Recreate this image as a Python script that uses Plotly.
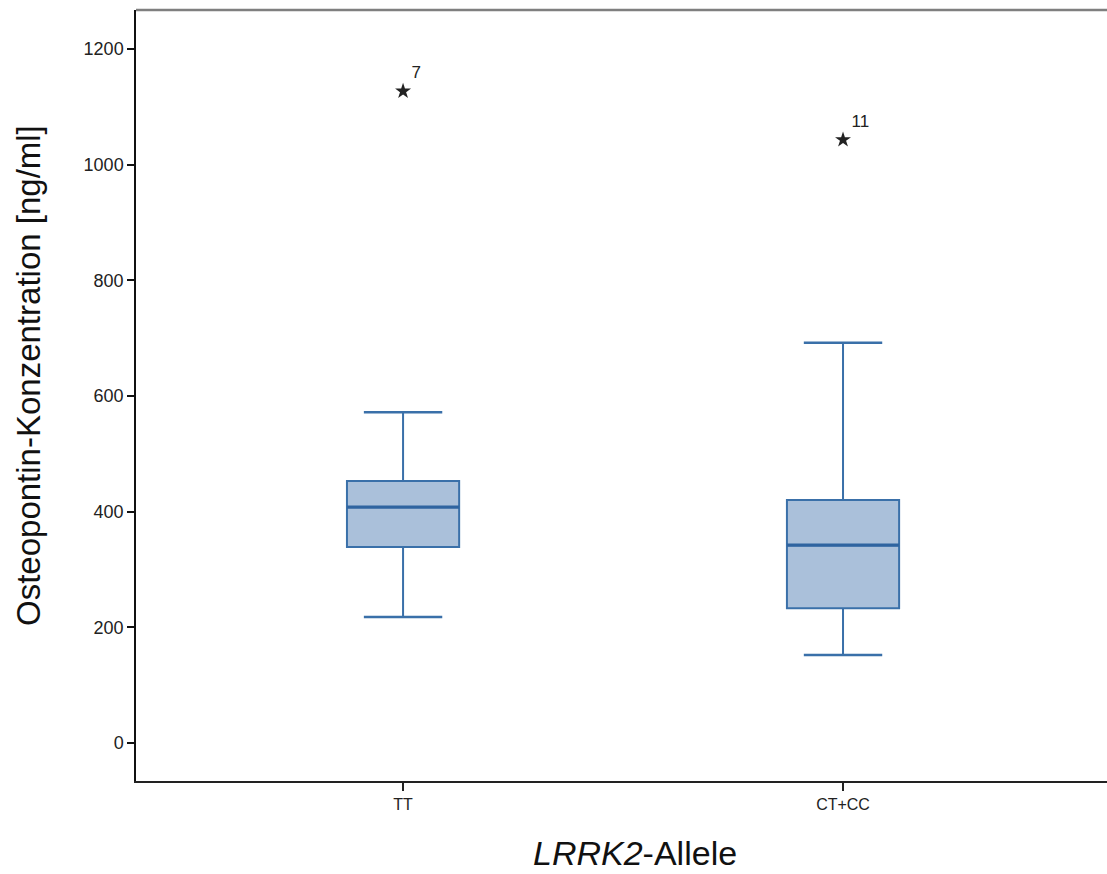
import plotly.graph_objects as go

# ---- data ----
categories = ["TT", "CT+CC"]
lower_whisker = [218, 152]
q1 = [339, 233]
median = [408, 342]
q3 = [453, 420]
upper_whisker = [572, 692]
outlier_values = [1127, 1043]
outlier_labels = ["7", "11"]
y_ticks = [0, 200, 400, 600, 800, 1000, 1200]

# ---- style ----
FONT = "Liberation Sans, Arial, sans-serif"
LINE = "#3A70A9"
FILL = "#AAC0DA"
BOX_W = 0.255
xpos = list(range(len(categories)))

fig = go.Figure()

fig.add_trace(go.Box(
    x=xpos, q1=q1, median=median, q3=q3,
    lowerfence=lower_whisker, upperfence=upper_whisker,
    width=BOX_W, fillcolor=FILL,
    line=dict(color=LINE, width=2),
    boxpoints=False, whiskerwidth=0, hoverinfo="skip", showlegend=False,
))

# thicker median lines
for xi, m in zip(xpos, median):
    fig.add_trace(go.Scatter(
        x=[xi - BOX_W / 2, xi + BOX_W / 2], y=[m, m], mode="lines",
        line=dict(color="#2F64A0", width=3.2), showlegend=False, hoverinfo="skip",
    ))

# whisker caps
fig.add_trace(go.Scatter(
    x=xpos + xpos, y=lower_whisker + upper_whisker, mode="markers",
    marker=dict(symbol="line-ew", size=56, line=dict(color=LINE, width=2.5)),
    showlegend=False, hoverinfo="skip",
))

# outliers
fig.add_trace(go.Scatter(
    x=xpos, y=outlier_values, mode="markers+text",
    marker=dict(symbol="star", size=12, color="#222222", line=dict(width=0)),
    text=outlier_labels, textposition="top right",
    textfont=dict(family=FONT, size=17, color="#222222"),
    showlegend=False, hoverinfo="skip",
))

fig.update_layout(
    width=1107, height=874,
    margin=dict(l=136, r=0, t=10, b=93),
    paper_bgcolor="white", plot_bgcolor="white",
    font=dict(family=FONT, color="#111111"),
    xaxis=dict(
        range=[-0.607, 1.6], tickmode="array", tickvals=xpos, ticktext=categories,
        showline=True, linecolor="#222222", linewidth=2,
        ticks="outside", ticklen=8, tickwidth=1.5, tickcolor="#222222",
        tickfont=dict(family=FONT, size=16, color="#222222"),
        showgrid=False, zeroline=False,
    ),
    yaxis=dict(
        range=[-65.7, 1267.4], tickmode="array", tickvals=y_ticks,
        showline=True, linecolor="#111111", linewidth=1.5,
        ticks="outside", ticklen=7, tickwidth=1.5, tickcolor="#111111",
        tickfont=dict(family=FONT, size=18, color="#222222"),
        showgrid=False, zeroline=False,
    ),
    shapes=[dict(type="line", xref="paper", yref="paper", x0=0, x1=1, y0=1, y1=1,
                 line=dict(color="#7F7F7F", width=2.5))],
    annotations=[
        dict(text="Osteopontin-Konzentration [ng/ml]", textangle=-90,
             xref="paper", yref="paper", x=(28 - 136) / 971, y=(781 - 376) / 771,
             xanchor="center", yanchor="middle", showarrow=False,
             font=dict(family=FONT, size=33, color="#111111")),
        dict(text="<i>LRRK2</i>-Allele",
             xref="paper", yref="paper", x=(635 - 136) / 971, y=(781 - 853) / 771,
             xanchor="center", yanchor="middle", showarrow=False,
             font=dict(family=FONT, size=34, color="#111111")),
    ],
)

fig.write_html("out.html")
